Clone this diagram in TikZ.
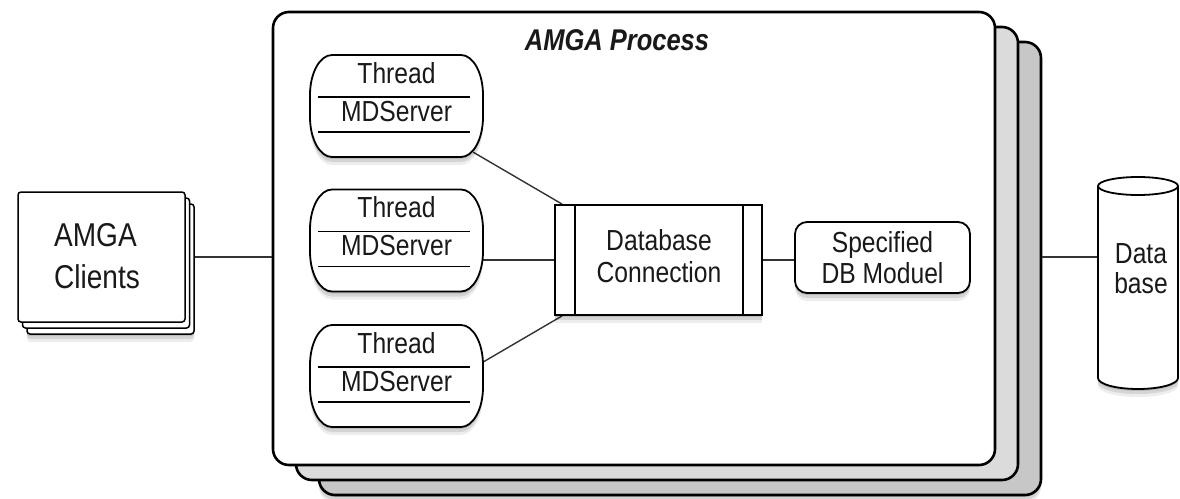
\documentclass[tikz,border=0pt]{standalone}
\usepackage{fontspec}
\setmainfont[FakeStretch=0.85]{Liberation Sans}
\usetikzlibrary{shadows}
\pgfdeclarelayer{bg}
\pgfdeclarelayer{conn}
\pgfsetlayers{bg,conn,main}
\tikzset{
 sh/.style={
   drop shadow={shadow xshift=0pt, shadow yshift=-2pt, opacity=0.12, fill=black},
   drop shadow={shadow xshift=0pt, shadow yshift=-5pt, opacity=0.10, fill=black},
   drop shadow={shadow xshift=0pt, shadow yshift=-8pt, opacity=0.07, fill=black}},
 frame/.style={draw=black, line width=2.6pt, rounded corners=16, minimum width=722, minimum height=453, inner sep=0},
 thr/.style={minimum width=173, minimum height=102, inner sep=0},
 thrshape/.style={draw=black, line width=1.8pt, fill=white, sh},
 sep/.style={line width=1.8pt},
 conn/.style={line width=1.4pt, draw=black!80},
 lbl/.style={font=\fontsize{29}{32}\selectfont, text=black!90, inner sep=0},
 boxline/.style={draw=black, line width=1.8pt, fill=white},
}
\begin{document}
\begin{tikzpicture}[x=1pt,y=-1pt]
\useasboundingbox (0,0) rectangle (1180,498);
\begin{pgfonlayer}{bg}
\node[frame, fill=black!22, sh] (proc3) at (634+46,238.5+30) {};
\node[frame, fill=black!14] (proc2) at (634+23,238.5+15) {};
\node[frame, fill=white] (proc1) at (634,238.5) {};
\end{pgfonlayer}
\node[font=\bfseries\itshape\fontsize{30}{34}\selectfont, text=black!90, inner sep=0] (title) at (617,40) {AMGA Process};
% threads
\foreach \i/\y in {1/106,2/240.5,3/376}{
  \node[thr] (thr\i) at (396.5,\y) {};
  \path[thrshape] (332,\y-51) -- (461,\y-51)
     arc[start angle=-90, end angle=0, x radius=22, y radius=40] -- (483,\y+11)
     arc[start angle=0, end angle=90, x radius=22, y radius=40] -- (332,\y+51)
     arc[start angle=90, end angle=180, x radius=22, y radius=40] -- (310,\y-11)
     arc[start angle=180, end angle=270, x radius=22, y radius=40] -- cycle;
  \draw[sep] (318,\y-9) -- (470,\y-9);
  \draw[sep] (318,\y+26) -- (470,\y+26);
  \node[lbl, anchor=base] (thr\i a) at (396.5,\y-23) {Thread};
  \node[lbl, anchor=base] (thr\i b) at (396.5,\y+15) {MDServer};
}
% clients
\node[boxline, line width=1.5pt, rounded corners=3, minimum width=167, minimum height=130, sh] (cl3) at (101.5+9,257+12) {};
\node[boxline, line width=1.5pt, rounded corners=3, minimum width=167, minimum height=130] (cl2) at (101.5+4.5,257+6) {};
\node[boxline, line width=1.5pt, rounded corners=3, minimum width=167, minimum height=130] (cl1) at (101.5,257) {};
\node[lbl, font=\fontsize{33}{42}\selectfont, align=left] (clt) at (97,256) {AMGA\\Clients};
% database connection
\node[boxline, minimum width=207, minimum height=110, inner sep=0, sh] (dbc) at (658.5,260) {};
\draw[sep] ([xshift=21pt]dbc.north west) -- ([xshift=21pt]dbc.south west);
\draw[sep] ([xshift=-20pt]dbc.north east) -- ([xshift=-20pt]dbc.south east);
\node[lbl, anchor=base] (dbca) at (659,250) {Database};
\node[lbl, anchor=base] (dbcb) at (659,282) {Connection};
% specified module
\node[boxline, rounded corners=12, minimum width=175, minimum height=71, inner sep=0, sh] (spec) at (882.5,257.5) {};
\node[lbl, anchor=base] (speca) at (882.5,252) {Specified};
\node[lbl, anchor=base] (specb) at (882.5,283) {DB Moduel};
% database cylinder
\node[inner sep=0, minimum width=80, minimum height=212] (db) at (1138,283) {};
\path[draw, line width=1.8pt, fill=white, sh] (1098,186) -- (1098,378) arc[start angle=180, end angle=0, x radius=40, y radius=11] -- (1178,186) arc[start angle=0, end angle=-180, x radius=40, y radius=9] -- cycle;
\draw[line width=1.8pt] (1098,186) arc[start angle=180, end angle=0, x radius=40, y radius=9];
\node[lbl, anchor=base] (dba) at (1141,263) {Data};
\node[lbl, anchor=base] (dbb) at (1141,293) {base};
% connectors
\begin{pgfonlayer}{conn}
\draw[conn] (cl1.east) -- (cl1.east -| proc1.west);
\draw[conn] ([xshift=-10pt,yshift=5pt]thr1.south east) -- ([xshift=8pt]dbc.north west);
\draw[conn] (thr2.center |- dbc.west) -- (dbc.west);
\draw[conn] ([yshift=14pt]thr3.east) -- ([xshift=8pt]dbc.south west);
\draw[conn] (dbc.east) -- (dbc.east -| spec.west);
\draw[conn] (cl1.east -| proc3.east) -- (cl1.east -| db.west);
\end{pgfonlayer}
\end{tikzpicture}
\end{document}
